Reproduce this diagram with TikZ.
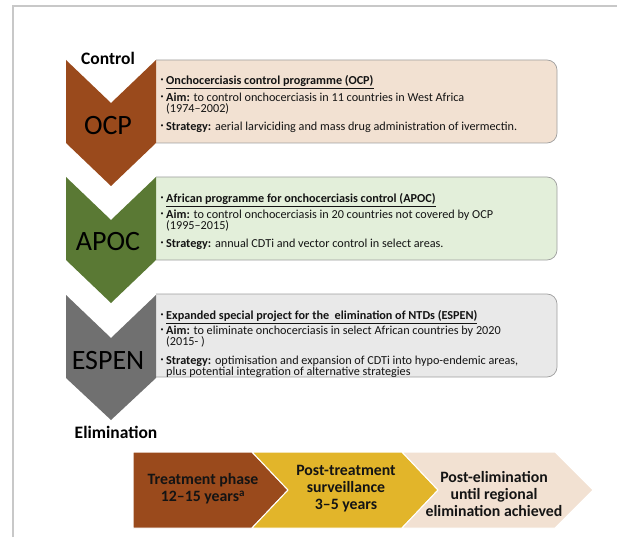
\documentclass[tikz,border=0pt]{standalone}
\usepackage{fontspec}
\setmainfont{Carlito}
\definecolor{ocpbrown}{RGB}{154,74,28}
\definecolor{apocgreen}{RGB}{90,121,52}
\definecolor{espengray}{RGB}{112,112,112}
\definecolor{ocpfill}{RGB}{242,225,210}
\definecolor{apocfill}{RGB}{227,239,218}
\definecolor{espenfill}{RGB}{233,233,233}
\definecolor{survyellow}{RGB}{226,181,42}
\definecolor{boxline}{RGB}{158,158,158}
\definecolor{framegray}{RGB}{200,200,200}
\definecolor{textdark}{RGB}{20,20,20}
\newcommand{\bul}{\llap{\raisebox{0.5ex}{\fontsize{6}{6}\selectfont\textbullet}\hspace{2.5pt}}}
\tikzset{
  infobox/.style={draw=boxline, line width=0.7pt, rounded corners=10pt},
  boxtext/.style={anchor=north west, inner sep=0pt, align=left, text=textdark,
    font=\fontsize{12.2}{11}\selectfont},
  chevlabel/.style={inner sep=0pt, text=black, font=\fontsize{28}{30}\selectfont},
  endlabel/.style={inner sep=0pt, text=black, font=\bfseries\fontsize{17.5}{19}\selectfont},
  stagetext/.style={inner sep=0pt, align=center, text=textdark,
    font=\bfseries\fontsize{15.8}{17}\selectfont}
}
\begin{document}
\begin{tikzpicture}[x=1pt,y=-1pt]
\useasboundingbox (0,0) rectangle (617,537);
\draw[framegray, line width=1.4pt] (13,537) -- (13,6) -- (617,6);
% boxes on the right
\begin{scope}
\clip (156,50) rectangle (570,150);
\filldraw[infobox, fill=ocpfill] (140,60) rectangle (557,143);
\end{scope}
\begin{scope}
\clip (156,167) rectangle (570,267);
\filldraw[infobox, fill=apocfill] (140,177) rectangle (557,260);
\end{scope}
\begin{scope}
\clip (156,285) rectangle (570,385);
\filldraw[infobox, fill=espenfill] (140,294) rectangle (557,377);
\end{scope}
% chevrons
\fill[ocpbrown] (66,60) -- (111,103) -- (156,60) -- (156,143) -- (111,186) -- (66,143) -- cycle;
\fill[apocgreen] (66,177) -- (111,220) -- (156,177) -- (156,260) -- (111,303) -- (66,260) -- cycle;
\fill[espengray] (66,295) -- (111,338) -- (156,295) -- (156,378) -- (111,420) -- (66,378) -- cycle;
\node[endlabel] (control) at (108,58) {Control};
\node[endlabel] (elimination) at (116,432) {Elimination};
\node[chevlabel] (ocp) at (108,126) {OCP};
\node[chevlabel] (apoc) at (108,242) {APOC};
\node[chevlabel] (espen) at (108,361) {ESPEN};
% OCP text
\node[boxtext] (ocptitle) at (166,75) {\bul\underline{\textbf{Onchocerciasis control programme (OCP)}}};
\node[boxtext] (ocpaim) at (166,92.5) {\bul\textbf{Aim:} to control onchocerciasis in 11 countries in West Africa\\(1974–2002)};
\node[boxtext] (ocpstrat) at (166,121.5) {\bul\textbf{Strategy:} aerial larviciding and mass drug administration of ivermectin.};
% APOC text
\node[boxtext] (apoctitle) at (166,193.5) {\bul\underline{\textbf{African programme for onchocerciasis control (APOC)}}};
\node[boxtext] (apocaim) at (166,209.5) {\bul\textbf{Aim:} to control onchocerciasis in 20 countries not covered by OCP\\(1995–2015)};
\node[boxtext] (apocstrat) at (166,238.5) {\bul\textbf{Strategy:} annual CDTi and vector control in select areas.};
% ESPEN text
\node[boxtext] (espentitle) at (166,310) {\bul\underline{\textbf{Expanded special project for the\ \ elimination of NTDs (ESPEN)}}};
\node[boxtext] (espenaim) at (166,326) {\bul\textbf{Aim:} to eliminate onchocerciasis in select African countries by 2020\\(2015- )};
\node[boxtext] (espenstrat) at (166,355.5) {\bul\textbf{Strategy:} optimisation and expansion of CDTi into hypo-endemic areas,\\plus potential integration of alternative strategies};
% timeline along the bottom
\filldraw[fill=ocpbrown, draw=white, line width=1pt] (133,452) -- (252,452) -- (288,490) -- (252,528) -- (133,528) -- cycle;
\filldraw[fill=survyellow, draw=white, line width=1pt] (252,452) -- (402,452) -- (438,490) -- (402,528) -- (252,528) -- (288,490) -- cycle;
\filldraw[fill=ocpfill, draw=white, line width=1pt] (402,452) -- (555,452) -- (593,490) -- (555,528) -- (402,528) -- (438,490) -- cycle;
\node[stagetext] (treat) at (203,489) {Treatment phase\\12–15 years\textsuperscript{a}};
\node[stagetext] (posttreat) at (346,489) {Post-treatment\\surveillance\\3–5 years};
\node[stagetext] (postelim) at (494,494) {Post-elimination\\until regional\\elimination achieved};
\end{tikzpicture}
\end{document}
